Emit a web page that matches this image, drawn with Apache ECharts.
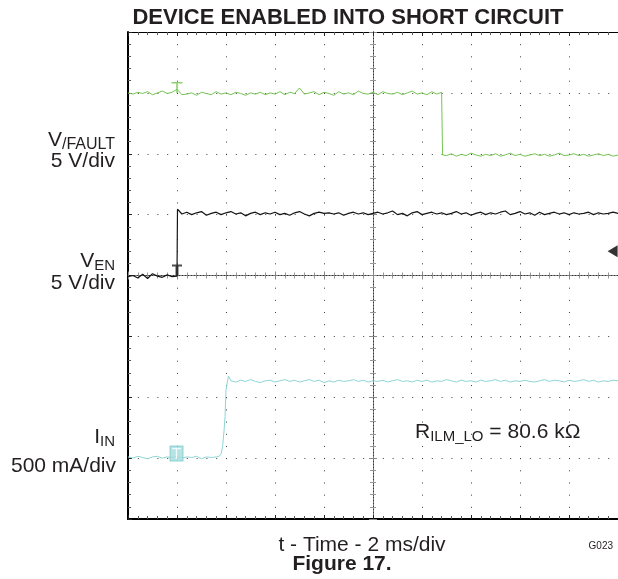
<!DOCTYPE html>
<html><head><meta charset="utf-8">
<script src="https://cdn.jsdelivr.net/npm/echarts@6/dist/echarts.min.js"></script>
<style>html,body{margin:0;padding:0;background:#fff}#c{width:618px;height:579px}</style>
</head><body><div id="c"></div>
<script>
// time in divisions (2 ms/div), values in divisions
const tGreen = [0,0.1,0.2,0.3,0.4,0.5,0.6,0.7,0.8,0.9,
  1,1.1,1.2,1.3,1.4,1.5,1.6,1.7,1.8,1.9,
  2,2.1,2.2,2.3,2.4,2.5,2.6,2.7,2.8,2.9,
  3,3.1,3.2,3.3,3.4,3.5,3.6,3.7,3.8,3.9,
  4,4.1,4.2,4.3,4.4,4.5,4.6,4.7,4.8,4.9,
  5,5.1,5.2,5.3,5.4,5.5,5.6,5.7,5.8,5.9,
  6,6.1,6.2,6.3,6.4,
  6.42,6.42,
  6.5,6.6,6.7,6.8,6.9,
  7,7.1,7.2,7.3,7.4,7.5,7.6,7.7,7.8,7.9,
  8,8.1,8.2,8.3,8.4,8.5,8.6,8.7,8.8,8.9,
  9,9.1,9.2,9.3,9.4,9.5,9.6,9.7,9.8,9.9,
  10];
const vGreen = [7.00,6.98,7.01,6.99,7.02,6.97,7.00,7.03,6.99,7.01,
  7.06,6.97,6.98,7.00,6.96,7.01,6.99,6.97,7.02,6.98,
  7.00,6.97,7.01,6.99,6.96,7.00,6.98,7.01,6.97,7.00,
  6.98,7.02,6.97,7.01,6.99,7.08,6.98,7.00,7.02,6.97,
  7.01,6.99,6.96,7.02,6.98,7.00,6.97,7.03,6.99,6.98,
  7.01,6.97,7.02,6.99,6.98,7.01,6.97,7.00,7.03,6.98,
  7.00,6.97,7.02,6.98,7.01,
  7.01,5.98,
  5.97,6.00,5.96,5.99,5.97,
  6.01,5.98,5.96,5.99,5.97,6.00,5.96,5.98,6.01,5.97,
  5.99,5.96,5.98,6.00,5.97,5.99,5.96,5.98,6.01,5.97,
  5.98,6.00,5.97,5.99,5.96,5.98,6.00,5.97,5.99,5.96,
  5.98];

const tBlack = [0,0.1,0.2,0.3,0.4,0.5,0.6,0.7,0.8,0.9,
  1.0,1.01,
  1.1,1.2,1.3,1.4,1.5,1.6,1.7,1.8,1.9,2,
  2.1,2.2,2.3,2.4,2.5,2.6,2.7,2.8,2.9,3,
  3.1,3.2,3.3,3.4,3.5,3.6,3.7,3.8,3.9,4,
  4.1,4.2,4.3,4.4,4.5,4.6,4.7,4.8,4.9,5,
  5.1,5.2,5.3,5.4,5.5,5.6,5.7,5.8,5.9,6,
  6.1,6.2,6.3,6.4,6.5,6.6,6.7,6.8,6.9,7,
  7.1,7.2,7.3,7.4,7.5,7.6,7.7,7.8,7.9,8,
  8.1,8.2,8.3,8.4,8.5,8.6,8.7,8.8,8.9,9,
  9.1,9.2,9.3,9.4,9.5,9.6,9.7,9.8,9.9,10];
const vBlack = [3.98,4.00,3.96,4.02,3.95,4.03,3.99,3.97,4.01,3.98,
  3.99,5.09,
  5.01,5.04,5.00,5.03,5.05,4.99,5.02,5.04,5.00,5.03,
  5.05,5.01,5.03,4.98,5.02,5.04,5.00,5.03,5.01,5.04,
  5.00,5.02,4.99,5.03,5.05,5.01,4.98,5.02,5.04,5.02,
  5.03,5.01,5.03,4.99,5.02,5.04,5.01,5.03,5.00,5.02,
  5.04,5.01,5.03,5.06,5.00,5.02,4.98,5.03,5.05,5.00,
  5.02,5.04,5.01,5.03,5.00,5.02,5.05,5.01,5.03,4.99,
  5.02,5.04,5.00,5.03,5.01,5.04,5.06,5.00,5.02,5.05,
  5.01,5.03,4.99,5.04,5.00,5.02,5.04,5.01,5.03,5.00,
  5.03,5.01,5.02,5.04,5.00,5.03,5.01,5.02,5.04,5.02];

const tCyan = [0,0.1,0.2,0.3,0.4,0.5,0.6,0.7,0.8,0.9,
  1,1.1,1.2,1.3,1.4,1.5,1.6,1.7,1.8,
  1.86,1.9,1.93,1.96,1.98,2.0,2.05,
  2.1,2.2,2.3,2.4,2.5,2.6,2.7,2.8,2.9,3,
  3.1,3.2,3.3,3.4,3.5,3.6,3.7,3.8,3.9,4,
  4.1,4.2,4.3,4.4,4.5,4.6,4.7,4.8,4.9,5,
  5.1,5.2,5.3,5.4,5.5,5.6,5.7,5.8,5.9,6,
  6.1,6.2,6.3,6.4,6.5,6.6,6.7,6.8,6.9,7,
  7.1,7.2,7.3,7.4,7.5,7.6,7.7,7.8,7.9,8,
  8.1,8.2,8.3,8.4,8.5,8.6,8.7,8.8,8.9,9,
  9.1,9.2,9.3,9.4,9.5,9.6,9.7,9.8,9.9,10];
const vCyan = [1.02,1.00,1.03,1.01,0.99,1.02,1.03,1.00,1.02,1.01,
  1.03,1.00,1.02,1.01,1.03,0.99,1.02,1.01,1.02,
  1.03,1.07,1.19,1.45,1.68,2.12,2.35,
  2.27,2.25,2.28,2.26,2.29,2.26,2.24,2.27,2.28,2.25,
  2.27,2.29,2.26,2.28,2.25,2.27,2.29,2.26,2.28,2.24,
  2.27,2.25,2.28,2.26,2.27,2.29,2.26,2.28,2.25,2.27,
  2.26,2.28,2.25,2.27,2.29,2.26,2.27,2.25,2.28,2.26,
  2.28,2.25,2.27,2.26,2.29,2.27,2.25,2.28,2.26,2.27,
  2.25,2.28,2.26,2.27,2.29,2.26,2.28,2.25,2.27,2.26,
  2.28,2.26,2.25,2.27,2.29,2.26,2.28,2.27,2.25,2.28,
  2.26,2.27,2.29,2.26,2.28,2.25,2.27,2.26,2.28,2.27];

// scope markers: [time, level]
const greenMarker = [[1.0, 7.0]];
const blackMarker = [[1.0, 4.0]];
const cyanMarker = [[0.99, 1.076]];
const trigArrow = [[9.89, 4.40]];

const GREEN = '#74c452', BLACK = '#151515', CYAN = '#8fd4d4', TXT = '#231f20';
const FONT = '"Liberation Sans", Arial, sans-serif';

const zip = (a, b) => a.map((t, i) => [t, b[i]]);

const mctx = document.createElement('canvas').getContext('2d');
function tw(s, size, bold) { mctx.font = (bold ? 'bold ' : '') + size + 'px "Liberation Sans"'; return mctx.measureText(s).width; }
function T(x, y, s, size, o) {
  o = o || {};
  return { type: 'text', x: x, y: y, scaleX: o.sx || 1, silent: true,
    style: { text: s, x: 0, y: 0, fontSize: size, fontFamily: FONT, fontWeight: o.bold ? 'bold' : 'normal',
      fill: TXT, align: o.align || 'left', verticalAlign: 'middle' } };
}
// label with subscript, right aligned at xr
function subRight(xr, y, main, sub, sz, ssz, dy) {
  const ws = tw(sub, ssz);
  return [T(xr, y + dy, sub, ssz, { align: 'right' }), T(xr - ws, y, main, sz, { align: 'right' })];
}

const LS = 21, SS = 15;
const graphics = [
  T(348, 18, 'DEVICE ENABLED INTO SHORT CIRCUIT', 22, { bold: true, align: 'center' }),
  ...subRight(115, 140, 'V', '/FAULT', LS, 16, 5),
  T(115, 161, '5 V/div', LS, { align: 'right' }),
  ...subRight(115, 261, 'V', 'EN', LS, SS, 5),
  T(115, 283, '5 V/div', LS, { align: 'right' }),
  ...subRight(115, 437, 'I', 'IN', LS, SS, 5),
  T(116, 466, '500 mA/div', LS, { align: 'right' }),
  T(362, 545, 't - Time - 2 ms/div', LS, { align: 'center' }),
  T(342, 564, 'Figure 17.', LS, { bold: true, align: 'center' }),
  T(613, 546, 'G023', 10, { align: 'right' })
];
(function () {
  let x = 415; const y = 432;
  graphics.push(T(x, y, 'R', LS)); x += tw('R', LS);
  graphics.push(T(x, y + 5, 'ILM_LO', SS)); x += tw('ILM_LO', SS);
  graphics.push(T(x, y, ' = 80.6 kΩ', LS));
})();

const G = { left: 128, top: 32, width: 490, height: 487 };
const grids = [Object.assign({}, G), Object.assign({}, G), Object.assign({}, G)];

const dotted = (dash, c) => ({ color: c || '#3a3a3a', width: 1, type: dash });
const borderAxis = (extra) => Object.assign({
  type: 'value', axisLabel: { show: false },
  axisTick: { show: true, inside: true, length: 4, lineStyle: { color: '#222' } },
  minorTick: { show: true, splitNumber: 5, length: 3, lineStyle: { color: '#555' } },
  minorSplitLine: { show: false }
}, extra);
const centerAxis = (extra, inside) => Object.assign({
  type: 'value', axisLabel: { show: false }, splitLine: { show: false },
  axisLine: { show: true, onZero: true, lineStyle: { color: '#333', width: 1, type: [1, 2] } },
  axisTick: { show: true, inside: inside, length: 4, lineStyle: { color: '#888' } },
  minorTick: { show: true, splitNumber: 5, length: 3, lineStyle: { color: '#999' } }
}, extra);

const option = {
  animation: false,
  backgroundColor: '#fff',
  grid: grids,
  xAxis: [
    borderAxis({ gridIndex: 0, min: 0, max: 10, interval: 1, position: 'bottom',
      axisLine: { show: true, onZero: false, lineStyle: { color: '#000', width: 2 } },
      splitLine: { show: true, lineStyle: dotted([1, 11.175]) } }),
    borderAxis({ gridIndex: 0, min: 0, max: 10, interval: 1, position: 'top',
      axisLine: { show: true, onZero: false, lineStyle: { color: '#000', width: 1 } },
      splitLine: { show: false } }),
    centerAxis({ gridIndex: 1, min: -5, max: 5, interval: 1, position: 'bottom' }, false),
    centerAxis({ gridIndex: 2, min: -5, max: 5, interval: 1, position: 'bottom' }, true)
  ],
  yAxis: [
    borderAxis({ gridIndex: 0, min: 0, max: 8, interval: 1, position: 'left',
      axisLine: { show: true, onZero: false, lineStyle: { color: '#000', width: 2 } },
      splitLine: { show: true, lineStyle: dotted([1, 8.8]) } }),
    centerAxis({ gridIndex: 1, min: -4, max: 4, interval: 1, position: 'left' }, false),
    centerAxis({ gridIndex: 2, min: -4, max: 4, interval: 1, position: 'left' }, true)
  ],
  series: [
    { type: 'line', data: zip(tGreen, vGreen), symbol: 'none', lineStyle: { color: GREEN, width: 1 }, z: 5 },
    { type: 'line', data: zip(tBlack, vBlack), symbol: 'none', lineStyle: { color: BLACK, width: 1.2 }, z: 6 },
    { type: 'line', data: zip(tCyan, vCyan), symbol: 'none', lineStyle: { color: CYAN, width: 1 }, z: 5 },
    { type: 'scatter', data: greenMarker, symbol: 'path://M0,0H10V1.5H5.75V10H4.25V1.5H0Z', symbolSize: [11, 11],
      symbolOffset: [0, '-50%'], itemStyle: { color: GREEN }, z: 7, silent: true },
    { type: 'scatter', data: blackMarker, symbol: 'path://M0,0H10V2H6.5V11H3.5V2H0Z', symbolSize: [10, 11],
      symbolOffset: [0, '-50%'], itemStyle: { color: '#222' }, z: 7, silent: true },
    { type: 'scatter', data: cyanMarker, symbol: 'rect', symbolSize: [13, 15],
      itemStyle: { color: '#a4dcdc', borderColor: '#7cc9c9', borderWidth: 1 }, z: 7, silent: true },
    { type: 'scatter', data: cyanMarker, symbol: 'path://M0,0H10V1.5H5.75V12H4.25V1.5H0Z', symbolSize: [9, 11],
      itemStyle: { color: '#ffffff' }, z: 8, silent: true },
    { type: 'scatter', data: trigArrow, symbol: 'path://M0,5L10,0V10Z', symbolSize: [10, 12],
      itemStyle: { color: '#000' }, z: 7, silent: true }
  ],
  graphic: graphics
};
const chart = echarts.init(document.getElementById('c'), null, { renderer: 'canvas' });
chart.setOption(option);
</script>
</body></html>
